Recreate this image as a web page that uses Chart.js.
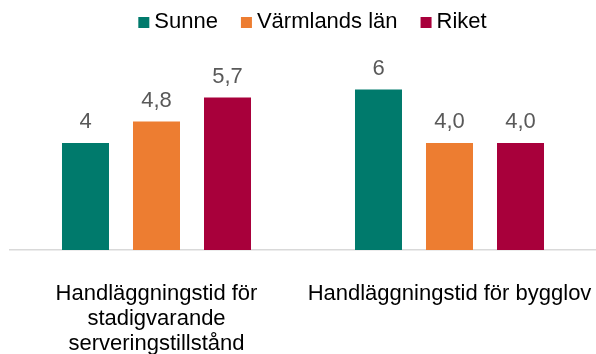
<!DOCTYPE html>
<html lang="sv">
<head>
<meta charset="utf-8">
<title>Handläggningstid</title>
<script src="https://cdn.jsdelivr.net/npm/chart.js@4"></script>
<style>
  html, body { margin: 0; padding: 0; background: #fff; }
  #wrap { width: 596px; height: 354px; }
</style>
</head>
<body>
<div id="wrap"><canvas id="grf"></canvas></div>
<script>
// kategorier och värden
const kategorier = [
    ['Handläggningstid för', 'stadigvarande', 'serveringstillstånd'],
    'Handläggningstid för bygglov'
];
const serier = ['Sunne', 'Värmlands län', 'Riket'];
const sunne = [4, 6];
const varmland = [4.8, 4.0];
const riket = [5.7, 4.0];
// etiketterna ovanför staplarna, skrivna som i källan
const sunneTxt = ['4', '6'];
const varmlandTxt = ['4,8', '4,0'];
const riketTxt = ['5,7', '4,0'];
const farger = ['#007A6C', '#ED7D31', '#A8003B'];

const typsnitt = "'Liberation Sans', Arial, sans-serif";

// ritar värdet ovanför varje stapel
const etikettPlugin = {
    id: 'etiketter',
    afterDatasetsDraw(chart) {
        const ctx = chart.ctx;
        ctx.save();
        ctx.font = '22px ' + typsnitt;
        ctx.fillStyle = '#595959';
        ctx.textAlign = 'center';
        ctx.textBaseline = 'alphabetic';
        chart.data.datasets.forEach((ds, i) => {
            const meta = chart.getDatasetMeta(i);
            meta.data.forEach((bar, j) => {
                ctx.fillText(ds.etiketter[j], bar.x, bar.y - 15);
            });
        });
        ctx.restore();
    }
};

// egen förklaring: liten ruta tätt intill texten
const forklaringPlugin = {
    id: 'forklaring',
    afterDraw(chart) {
        const ctx = chart.ctx;
        const ruta = 11, luft = 5, mellan = 23;
        ctx.save();
        ctx.font = '22px ' + typsnitt;
        ctx.textBaseline = 'alphabetic';
        ctx.textAlign = 'left';
        const poster = chart.data.datasets.map(ds => ({
            text: ds.label,
            farg: ds.backgroundColor,
            w: ruta + luft + ctx.measureText(ds.label).width
        }));
        const total = poster.reduce((s, p) => s + p.w, 0) + mellan * (poster.length - 1);
        let x = 312.5 - total / 2;
        poster.forEach(p => {
            ctx.fillStyle = p.farg;
            ctx.fillRect(x, 17, ruta, ruta);
            ctx.fillStyle = '#000';
            ctx.fillText(p.text, x + ruta + luft, 28);
            x += p.w + mellan;
        });
        ctx.restore();
    }
};

const ctx = document.getElementById('grf').getContext('2d');
new Chart(ctx, {
    type: 'bar',
    data: {
        labels: kategorier,
        datasets: [
            { label: serier[0], data: sunne, etiketter: sunneTxt, backgroundColor: farger[0] },
            { label: serier[1], data: varmland, etiketter: varmlandTxt, backgroundColor: farger[1] },
            { label: serier[2], data: riket, etiketter: riketTxt, backgroundColor: farger[2] }
        ]
    },
    options: {
        responsive: true,
        maintainAspectRatio: false,
        animation: false,
        categoryPercentage: 0.727,
        barPercentage: 0.662,
        layout: { padding: { left: 10, right: 0, top: 36, bottom: 0 } },
        plugins: {
            legend: { display: false },
            tooltip: { enabled: false }
        },
        scales: {
            y: {
                display: false,
                min: 0,
                max: 8
            },
            x: {
                grid: { display: false },
                border: { display: true, color: '#d9d9d9', width: 1.5 },
                ticks: {
                    color: '#000',
                    padding: 23,
                    maxRotation: 0,
                    autoSkip: false,
                    font: { family: typsnitt, size: 22, lineHeight: 1.14 }
                },
                // fast höjd på axeln och inga extra marginaler för de breda etiketterna
                afterFit(scale) {
                    scale.paddingLeft = 0;
                    scale.paddingRight = 0;
                    scale.height = 104;
                }
            }
        }
    },
    plugins: [etikettPlugin, forklaringPlugin]
});
</script>
</body>
</html>
